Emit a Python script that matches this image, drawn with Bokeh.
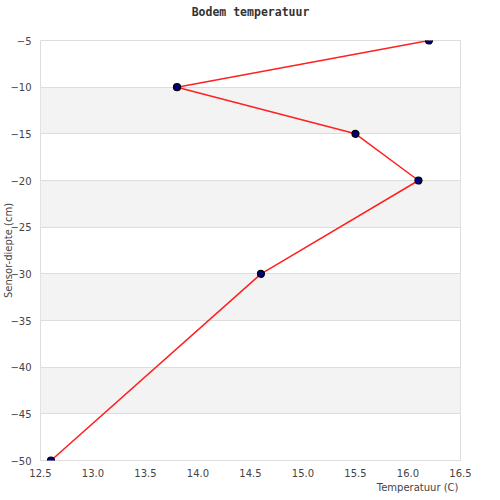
from bokeh.plotting import figure
from bokeh.models import Range1d, SingleIntervalTicker, NumeralTickFormatter, Title
from bokeh.embed import file_html
from bokeh.resources import INLINE

depth_cm = [-5, -10, -15, -20, -30, -50]
temperature_c = [16.2, 13.8, 15.5, 16.1, 14.6, 12.6]

p = figure(width=500, height=500, output_backend="svg", toolbar_location=None,
           x_range=Range1d(12.5, 16.5), y_range=Range1d(-50, -5),
           min_border_left=40, min_border_right=40, min_border_top=40, min_border_bottom=40,
           title=None)

# spacer between frame and title, then the title itself
spacer = Title(text=" ", text_font_size="1px", standoff=16)
p.add_layout(spacer, "above")
title = Title(text="Bodem temperatuur", align="center", vertical_align="top",
              text_font="DejaVu Sans Mono", text_font_size="11.5px", text_font_style="bold",
              text_color="#333333", standoff=2)
p.add_layout(title, "above")

p.outline_line_color = "#dddddd"
p.outline_line_width = 1
p.background_fill_color = "white"
p.border_fill_color = "white"

p.xgrid.grid_line_color = None
p.ygrid.grid_line_color = "#dddddd"
p.ygrid.band_fill_color = "#f3f3f3"
p.ygrid.band_fill_alpha = 1.0

p.xaxis.ticker = SingleIntervalTicker(interval=0.5)
p.xaxis.formatter = NumeralTickFormatter(format="0.0")
p.yaxis.ticker = SingleIntervalTicker(interval=5)
for ax in (p.xaxis, p.yaxis):
    ax.axis_line_color = None
    ax.major_tick_line_color = None
    ax.minor_tick_line_color = None
    ax.major_tick_out = 0
    ax.major_tick_in = 0
    ax.major_label_text_font = "DejaVu Sans"
    ax.major_label_text_font_size = "10px"
    ax.major_label_text_color = "#444444"
    ax.axis_label_text_font = "DejaVu Sans"
    ax.axis_label_text_font_size = "10px"
    ax.axis_label_text_font_style = "normal"
    ax.axis_label_text_color = "#444444"

p.xaxis.major_label_standoff = 4
p.yaxis.axis_label = "Sensor-diepte (cm)"
p.yaxis.major_label_standoff = 5
p.yaxis.axis_label_standoff = -7

xlabel = Title(text="Temperatuur (C)", align="right", text_font="DejaVu Sans",
               text_font_size="10px", text_font_style="normal", text_color="#444444",
               standoff=0, offset=2)
p.add_layout(xlabel, "below")

p.line(temperature_c, depth_cm, line_color="#ff2020", line_width=1.5)
p.scatter(temperature_c, depth_cm, size=7, fill_color="#000080", line_color="black", line_width=1.2)

open("out.html", "w").write(file_html(p, INLINE))
